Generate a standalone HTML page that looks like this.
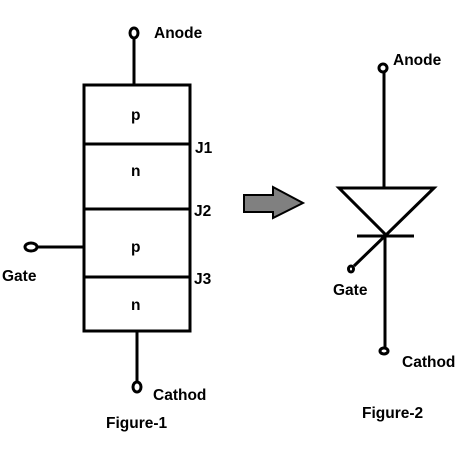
<!DOCTYPE html>
<html><head><style>
body{margin:0;background:#fff}
svg text{font-family:"Liberation Sans",Arial,sans-serif;font-weight:bold;font-size:15.5px;fill:#000}
</style></head><body>
<svg width="467" height="446" viewBox="0 0 467 446" xmlns="http://www.w3.org/2000/svg">
<g stroke="#000" stroke-width="3" fill="none">
<rect x="84" y="85" width="106" height="246"/>
<line x1="84" y1="144" x2="190" y2="144"/>
<line x1="84" y1="209" x2="190" y2="209"/>
<line x1="84" y1="277" x2="190" y2="277"/>
<line x1="134" y1="39" x2="134" y2="85"/>
<line x1="137" y1="331" x2="137" y2="382"/>
<line x1="37" y1="247" x2="84" y2="247"/>
<ellipse cx="134" cy="33" rx="4" ry="5"/>
<ellipse cx="137" cy="387" rx="4" ry="5"/>
<ellipse cx="31" cy="247" rx="6" ry="4"/>
<line x1="384" y1="72" x2="384" y2="188"/>
<polygon points="339,188 434,188 386,235"/>
<line x1="357" y1="236" x2="414" y2="236"/>
<line x1="385" y1="236" x2="385" y2="347"/>
<line x1="386" y1="235" x2="354" y2="266"/>
<circle cx="383" cy="68" r="4"/>
<ellipse cx="384" cy="351" rx="4" ry="3"/>
<ellipse cx="351" cy="269" rx="2.5" ry="3"/>
</g>
<polygon points="244,195 273,195 273,187 303,203 273,218 273,212 244,212" fill="#808080" stroke="#000" stroke-width="2"/>
<text x="154" y="38">Anode</text>
<text x="131" y="120">p</text>
<text x="131" y="176">n</text>
<text x="131" y="252">p</text>
<text x="131" y="310">n</text>
<text x="195" y="153">J1</text>
<text x="194" y="216">J2</text>
<text x="194" y="284">J3</text>
<text x="2" y="281">Gate</text>
<text x="153" y="400">Cathod</text>
<text x="106" y="428">Figure-1</text>
<text x="393" y="65">Anode</text>
<text x="333" y="295">Gate</text>
<text x="402" y="367">Cathod</text>
<text x="362" y="418">Figure-2</text>
</svg>
</body></html>
